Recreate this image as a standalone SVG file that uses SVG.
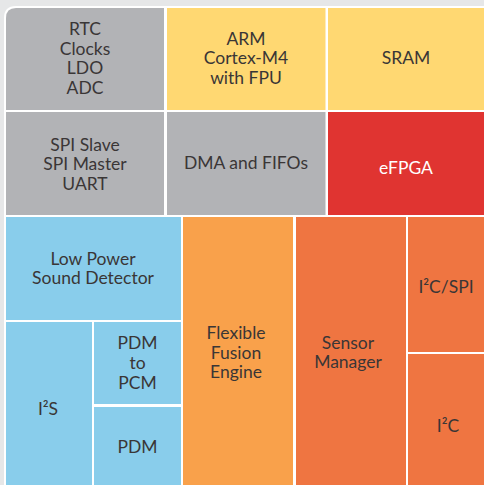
<svg xmlns="http://www.w3.org/2000/svg" width="484" height="485" viewBox="0 0 484 485">
  <style>
    .lbl { font-family: Lato, "Open Sans", "Liberation Sans", sans-serif; font-size: 17.5px; fill: #3a3636; text-anchor: middle; }
    .gray { fill: #b2b3b6; }
    .yellow { fill: #ffd872; }
    .red { fill: #e03431; }
    .blue { fill: #89cdeb; }
    .amber { fill: #f9a14b; }
    .orange { fill: #ef7541; }
  </style>
  <!-- page background and white frame -->
  <rect x="0" y="0" width="484" height="485" fill="#e6e7e8"/>
  <path d="M4 485 V18 Q4 6 16 6 H484 V485 Z" fill="#ffffff"/>

  <g id="rtc">
    <path class="gray" d="M6 110 V18 Q6 8 16 8 H164 V110 Z"/>
    <text class="lbl" x="85" y="35">RTC</text>
    <text class="lbl" x="85" y="54.5">Clocks</text>
    <text class="lbl" x="85" y="74">LDO</text>
    <text class="lbl" x="85" y="93.5">ADC</text>
  </g>
  <g id="arm">
    <rect class="yellow" x="167" y="8" width="158.5" height="102"/>
    <text class="lbl" x="246" y="44.5">ARM</text>
    <text class="lbl" x="246" y="64">Cortex-M4</text>
    <text class="lbl" x="246" y="83.5">with FPU</text>
  </g>
  <g id="sram">
    <rect class="yellow" x="328" y="8" width="156" height="102"/>
    <text class="lbl" x="406" y="64">SRAM</text>
  </g>
  <g id="serial">
    <rect class="gray" x="6" y="112" width="158" height="103"/>
    <text class="lbl" x="85" y="151">SPI Slave</text>
    <text class="lbl" x="85" y="170">SPI Master</text>
    <text class="lbl" x="85" y="189.5">UART</text>
  </g>
  <g id="dma">
    <rect class="gray" x="167" y="112" width="158.5" height="103"/>
    <text class="lbl" x="246" y="169">DMA and FIFOs</text>
  </g>
  <g id="efpga">
    <rect class="red" x="328" y="112" width="156" height="103"/>
    <text class="lbl" x="406" y="174" style="fill:#ffffff">eFPGA</text>
  </g>
  <g id="sound">
    <rect class="blue" x="6" y="217" width="175" height="103"/>
    <text class="lbl" x="93" y="265">Low Power</text>
    <text class="lbl" x="93" y="284">Sound Detector</text>
  </g>
  <g id="i2s">
    <rect class="blue" x="6" y="322" width="86" height="163"/>
    <text class="lbl" x="48" y="415">I²S</text>
  </g>
  <g id="pdm2pcm">
    <rect class="blue" x="94" y="322" width="87" height="82"/>
    <text class="lbl" x="137.5" y="349">PDM</text>
    <text class="lbl" x="137.5" y="369">to</text>
    <text class="lbl" x="137.5" y="388.5">PCM</text>
  </g>
  <g id="pdm">
    <rect class="blue" x="94" y="407" width="87" height="78"/>
    <text class="lbl" x="137.5" y="453">PDM</text>
  </g>
  <g id="fusion">
    <rect class="amber" x="183" y="217" width="110" height="268"/>
    <text class="lbl" x="236" y="339">Flexible</text>
    <text class="lbl" x="236" y="358.5">Fusion</text>
    <text class="lbl" x="236" y="378">Engine</text>
  </g>
  <g id="sensor">
    <rect class="orange" x="296" y="217" width="110" height="268"/>
    <text class="lbl" x="348" y="348.5">Sensor</text>
    <text class="lbl" x="348" y="368">Manager</text>
  </g>
  <g id="i2cspi">
    <rect class="orange" x="408" y="217" width="76" height="135"/>
    <text class="lbl" x="446" y="293">I²C/SPI</text>
  </g>
  <g id="i2c">
    <rect class="orange" x="408" y="354" width="76" height="131"/>
    <text class="lbl" x="448" y="432">I²C</text>
  </g>
</svg>
